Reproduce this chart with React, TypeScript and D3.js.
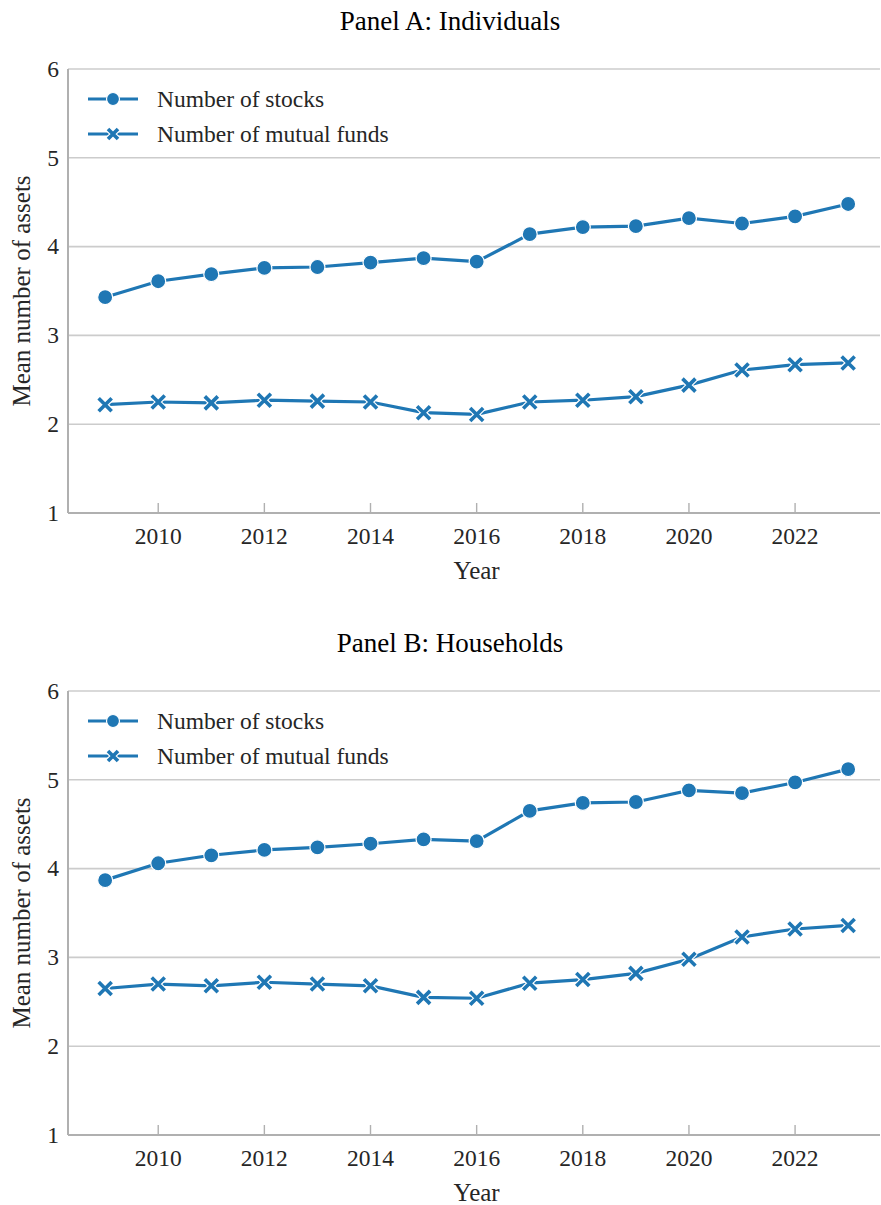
import React from "react";
import * as d3 from "d3";

const years = [2009, 2010, 2011, 2012, 2013, 2014, 2015, 2016, 2017, 2018, 2019, 2020, 2021, 2022, 2023];
const stocksA = [3.43, 3.61, 3.69, 3.76, 3.77, 3.82, 3.87, 3.83, 4.14, 4.22, 4.23, 4.32, 4.26, 4.34, 4.48];
const fundsA = [2.22, 2.25, 2.24, 2.27, 2.26, 2.25, 2.13, 2.11, 2.25, 2.27, 2.31, 2.44, 2.61, 2.67, 2.69];
const stocksB = [3.87, 4.06, 4.15, 4.21, 4.24, 4.28, 4.33, 4.31, 4.65, 4.74, 4.75, 4.88, 4.85, 4.97, 5.12];
const fundsB = [2.65, 2.70, 2.68, 2.72, 2.70, 2.68, 2.55, 2.54, 2.71, 2.75, 2.82, 2.98, 3.23, 3.32, 3.36];
const xTicks = [2010, 2012, 2014, 2016, 2018, 2020, 2022];
const yTicks = [1, 2, 3, 4, 5, 6];
const panels = [
  { title: "Panel A: Individuals", stocks: stocksA, funds: fundsA, top: 69 },
  { title: "Panel B: Households", stocks: stocksB, funds: fundsB, top: 691 },
];
const seriesLabels = ["Number of stocks", "Number of mutual funds"];

const BLUE = "#1f77b4";
const FONT = "'Liberation Serif', 'Times New Roman', Times, serif";
const TEXT = "#262626";
const left = 68;
const right = 880;
const plotH = 444;

function XMark({ x, y, s = 6.5 }: { x: number; y: number; s?: number }) {
  const d = `M${x - s},${y - s}L${x + s},${y + s}M${x - s},${y + s}L${x + s},${y - s}`;
  return (
    <g>
      <path d={d} stroke="#fff" strokeWidth={6} strokeLinecap="butt" />
      <path d={d} stroke={BLUE} strokeWidth={3.6} strokeLinecap="butt" />
    </g>
  );
}

function Dot({ x, y, r = 7.5 }: { x: number; y: number; r?: number }) {
  return <circle cx={x} cy={y} r={r} fill={BLUE} stroke="#fff" strokeWidth={1.2} />;
}

function Panel({ title, stocks, funds, top }: { title: string; stocks: number[]; funds: number[]; top: number }) {
  const x = d3.scaleLinear().domain([2008.3, 2023.6]).range([left, right]);
  const y = d3.scaleLinear().domain([1, 6]).range([top + plotH, top]);
  const line = d3
    .line<number>()
    .x((_, i) => x(years[i]))
    .y((v) => y(v));
  const bottom = top + plotH;
  return (
    <g style={{ fontFamily: FONT }}>
      <text x={450} y={top - 39} textAnchor="middle" fontSize={27} fill="#000">
        {title}
      </text>
      {yTicks.slice(1).map((t) => (
        <line key={t} x1={left} x2={right} y1={y(t)} y2={y(t)} stroke="#cccccc" strokeWidth={1.6} />
      ))}
      {yTicks.map((t) => (
        <text key={t} x={left - 9} y={y(t)} dy="0.33em" textAnchor="end" fontSize={23.5} fill={TEXT}>
          {t}
        </text>
      ))}
      {xTicks.map((t) => (
        <g key={t}>
          <line x1={x(t)} x2={x(t)} y1={bottom} y2={bottom - 10} stroke="#b0b0b0" strokeWidth={1.4} />
          <text x={x(t)} y={bottom + 31} textAnchor="middle" fontSize={23.5} fill={TEXT}>
            {t}
          </text>
        </g>
      ))}
      <line x1={left} x2={left} y1={top} y2={bottom} stroke="#b0b0b0" strokeWidth={2} />
      <line x1={left} x2={right} y1={bottom} y2={bottom} stroke="#b0b0b0" strokeWidth={2} />
      <text x={x(2016)} y={bottom + 66} textAnchor="middle" fontSize={25} fill={TEXT}>
        Year
      </text>
      <text
        transform={`translate(30,${top + plotH / 2}) rotate(-90)`}
        textAnchor="middle"
        fontSize={25}
        fill={TEXT}
      >
        Mean number of assets
      </text>
      <path d={line(stocks) || ""} fill="none" stroke={BLUE} strokeWidth={3.2} />
      <path d={line(funds) || ""} fill="none" stroke={BLUE} strokeWidth={3.2} />
      {stocks.map((v, i) => (
        <Dot key={"s" + i} x={x(years[i])} y={y(v)} />
      ))}
      {funds.map((v, i) => (
        <XMark key={"f" + i} x={x(years[i])} y={y(v)} />
      ))}
      <g>
        <line x1={88} x2={138} y1={top + 30} y2={top + 30} stroke={BLUE} strokeWidth={3.2} />
        <Dot x={113} y={top + 30} r={6.5} />
        <text x={157} y={top + 30} dy="0.33em" fontSize={23.5} fill={TEXT}>
          {seriesLabels[0]}
        </text>
        <line x1={88} x2={138} y1={top + 65} y2={top + 65} stroke={BLUE} strokeWidth={3.2} />
        <XMark x={113} y={top + 65} s={5} />
        <text x={157} y={top + 65} dy="0.33em" fontSize={23.5} fill={TEXT}>
          {seriesLabels[1]}
        </text>
      </g>
    </g>
  );
}

export default function App() {
  return (
    <svg width={881} height={1205} style={{ position: "absolute", left: 0, top: 0, background: "#fff" }}>
      <rect width={881} height={1205} fill="#fff" />
      {panels.map((p) => (
        <Panel key={p.title} {...p} />
      ))}
    </svg>
  );
}
